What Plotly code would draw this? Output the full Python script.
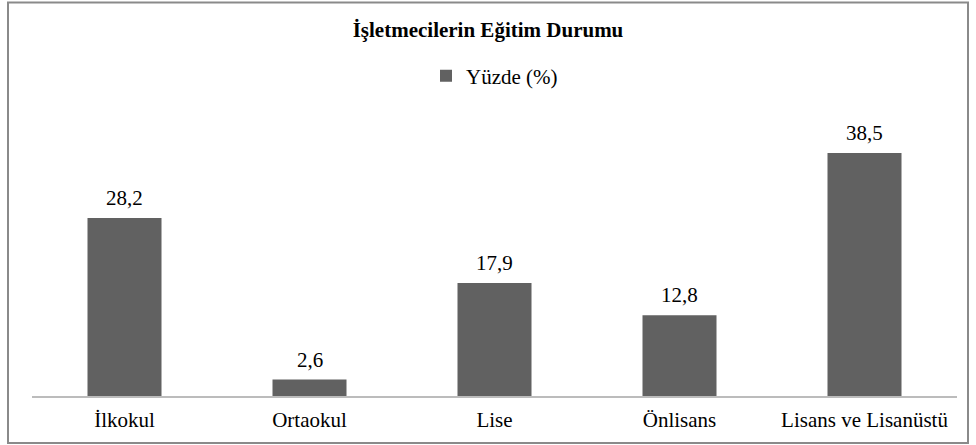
import plotly.graph_objects as go

categories = ["İlkokul", "Ortaokul", "Lise", "Önlisans", "Lisans ve Lisanüstü"]
values = [28.2, 2.6, 17.9, 12.8, 38.5]
labels = [f"{v:.1f}".replace(".", ",") for v in values]

FONT = "Liberation Serif"
W, H = 976, 445
L, R, T, B = 32, 19, 112, 49
pw, ph = W - L - R, H - T - B

fig = go.Figure(go.Bar(
    x=categories, y=values, name="Yüzde (%)",
    marker=dict(color="#616161", line=dict(width=0)),
))

for c, v, t in zip(categories, values, labels):
    fig.add_annotation(x=c, y=v, text=t, showarrow=False, yanchor="middle", yshift=20,
                       font=dict(family=FONT, size=21, color="#000000"))

def px_x(p):
    return (p - L) / pw

def px_y(p):
    return (H - B - p) / ph

fig.update_layout(
    width=W, height=H,
    margin=dict(l=L, r=R, t=T, b=B),
    paper_bgcolor="white", plot_bgcolor="white",
    font=dict(family=FONT, size=21, color="#000000"),
    title=dict(text="<b>İşletmecilerin Eğitim Durumu</b>", x=0.5, xanchor="center",
               y=1 - 30 / H, yanchor="middle", font=dict(family=FONT, size=21, color="#000000")),
    showlegend=True,
    legend=dict(orientation="h", x=0.5, xanchor="center", y=px_y(76), yanchor="middle",
                font=dict(family=FONT, size=21), itemwidth=30),
    bargap=0.6,
    xaxis=dict(showline=True, linecolor="#bcbcbc", linewidth=1.5, ticks="",
               ticklabelstandoff=4, tickfont=dict(family=FONT, size=21), showgrid=False),
    yaxis=dict(range=[0, 45], visible=False, showgrid=False),
    shapes=[dict(type="rect", xref="paper", yref="paper",
                 x0=px_x(8), x1=px_x(968), y0=px_y(443), y1=px_y(2.5),
                 line=dict(color="#8a8a8a", width=2), fillcolor="rgba(0,0,0,0)", layer="below")],
)

fig.write_html("out.html", config={"displayModeBar": False},
               post_script="document.body.style.margin='0';document.body.style.overflow='hidden';")
